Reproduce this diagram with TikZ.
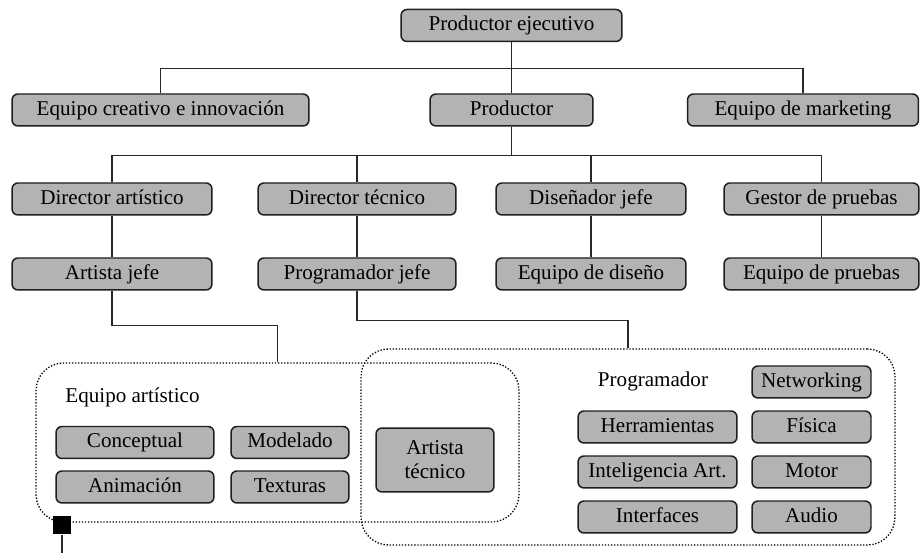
\documentclass[tikz,border=0pt]{standalone}
\usepackage{fontspec}
\setmainfont{Liberation Serif}
\definecolor{boxfill}{RGB}{179,179,179}
\definecolor{boxline}{RGB}{30,30,30}
\definecolor{wire}{RGB}{40,40,40}
\tikzset{
  box/.style={shape=rectangle,rounded corners=0.12cm,draw=boxline,fill=boxfill,align=center,line width=0.85pt,inner sep=0pt,minimum height=0.64cm,text height=8.4pt,text depth=2.6pt,font=\fontsize{12}{13.6}\selectfont},
  group/.style={shape=rectangle,rounded corners=0.55cm,draw=black,densely dotted,line width=0.75pt,inner sep=0pt},
  grouptitle/.style={shape=rectangle,inner sep=0pt,text height=8.4pt,text depth=2.6pt,font=\fontsize{12}{13.6}\selectfont},
  wireline/.style={-,draw=wire,line width=0.75pt},
  elbow/.style={to path={-- ++(0,#1) -| (\tikztotarget)}}
}
\begin{document}
\begin{tikzpicture}[x=0.02cm,y=-0.02cm]
\useasboundingbox (0,0) rectangle (923,553);
\node[box,minimum width=4.42cm] (0) at (511.5,25.5) {Productor ejecutivo};
\node[box,minimum width=5.94cm] (1) at (160.5,110) {Equipo creativo e innovación};
\node[box,minimum width=3.26cm] (2) at (511.5,110) {Productor};
\node[box,minimum width=4.62cm] (3) at (803,110) {Equipo de marketing};
\node[box,minimum width=4cm] (4) at (112,199) {Director artístico};
\node[box,minimum width=3.96cm] (5) at (357,199) {Director técnico};
\node[box,minimum width=3.8cm] (6) at (591,199) {Diseñador jefe};
\node[box,minimum width=3.9cm] (7) at (821.5,199) {Gestor de pruebas};
\node[box,minimum width=4cm] (8) at (112,274) {Artista jefe};
\node[box,minimum width=3.96cm] (9) at (357,274) {Programador jefe};
\node[box,minimum width=3.8cm] (10) at (591,274) {Equipo de diseño};
\node[box,minimum width=3.9cm] (11) at (821.5,274) {Equipo de pruebas};
\node[group,minimum width=9.66cm,minimum height=3.18cm] (12) at (277.5,442.5) {};
\node[group,minimum width=10.68cm,minimum height=3.92cm] (13) at (628,447) {};
\node[grouptitle] (14) at (132.5,397) {Equipo artístico};
\node[box,minimum width=3.16cm] (15) at (135,442.5) {Conceptual};
\node[box,minimum width=2.36cm] (16) at (290,442.5) {Modelado};
\node[box,minimum width=3.16cm] (17) at (135,487) {Animación};
\node[box,minimum width=2.36cm] (18) at (290,487) {Texturas};
\node[box,minimum width=2.36cm,minimum height=1.28cm,text height={},text depth={}] (19) at (435,460) {Artista\\técnico};
\node[grouptitle] (20) at (653,381) {Programador};
\node[box,minimum width=2.38cm] (21) at (811.5,382) {Networking};
\node[box,minimum width=3.18cm] (22) at (657.5,427) {Herramientas};
\node[box,minimum width=2.38cm] (23) at (811.5,427) {Física};
\node[box,minimum width=3.18cm] (24) at (657.5,472) {Inteligencia Art.};
\node[box,minimum width=2.38cm] (25) at (811.5,472) {Motor};
\node[box,minimum width=3.18cm] (26) at (657.5,517) {Interfaces};
\node[box,minimum width=2.38cm] (27) at (811.5,517) {Audio};
\node[shape=rectangle,fill=black,minimum size=0.38cm,inner sep=0pt] (28) at (62,525) {};
\coordinate (29) at (62,553);

\path [wireline] (0) edge (2);
\path [wireline] (0.south) edge[elbow=26] (1.north) edge[elbow=26] (3.north);
\path [wireline] (2.south) edge[elbow=29] (4.north) edge[elbow=29] (5.north) edge[elbow=29] (6.north) edge[elbow=29] (7.north);
\path [wireline] (4) edge (8);
\path [wireline] (5) edge (9);
\path [wireline] (6) edge (10);
\path [wireline] (7) edge (11);
\path [wireline] (8.south) edge[elbow=35] (12.north);
\path [wireline] (9.south) edge[elbow=30] (13.north);
\path [wireline] (28) edge (29);
\end{tikzpicture}
\end{document}
